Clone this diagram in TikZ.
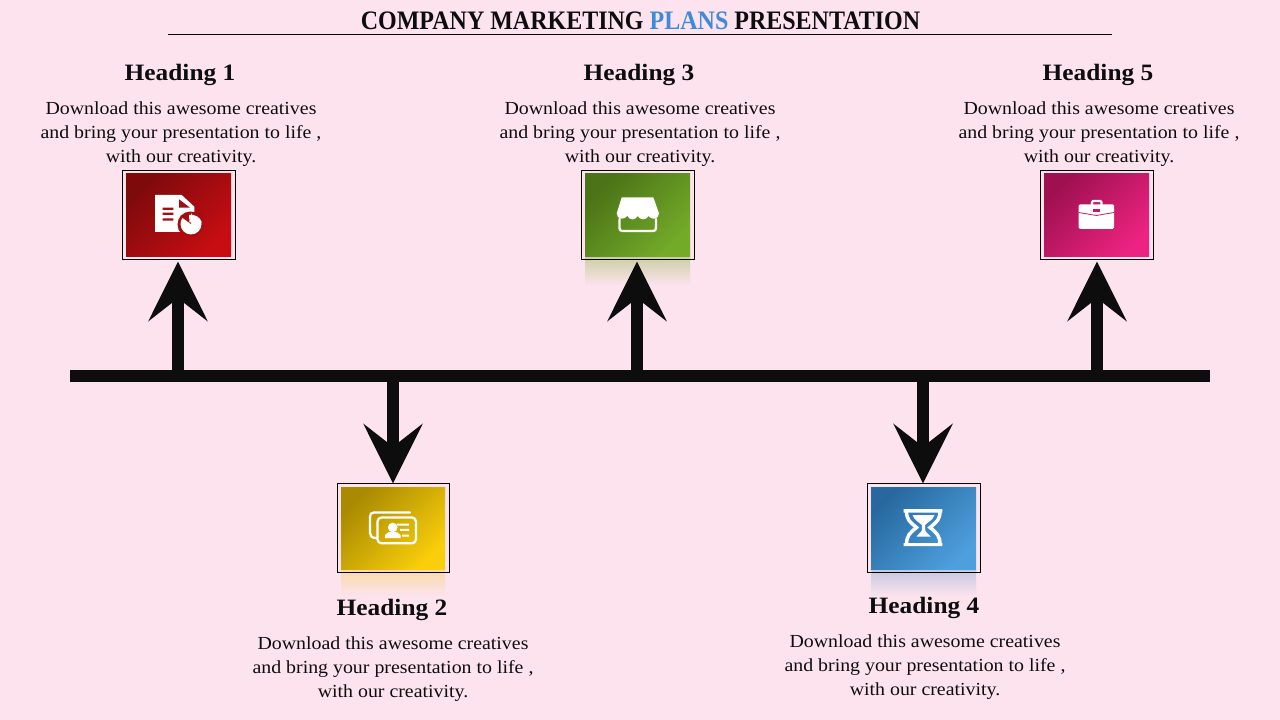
\documentclass[tikz,border=0pt]{standalone}
\usepackage{fontspec}
\setmainfont{Liberation Serif}[FakeStretch=1.08]
\newfontfamily\titlefont{Liberation Serif}[FakeStretch=0.90]
\usetikzlibrary{arrows.meta}
\definecolor{pagebg}{HTML}{FCE3EE}
\definecolor{ink}{HTML}{0D0D0D}
\definecolor{planblue}{HTML}{3F8BD9}
\definecolor{redA}{HTML}{7E0A0C}\definecolor{redB}{HTML}{C70D12}\definecolor{redM}{HTML}{A60D10}
\definecolor{greenA}{HTML}{4B7317}\definecolor{greenB}{HTML}{73AB29}
\definecolor{pinkA}{HTML}{9E1050}\definecolor{pinkB}{HTML}{EC2380}\definecolor{pinkM}{HTML}{C61A68}
\definecolor{goldA}{HTML}{A98A02}\definecolor{goldB}{HTML}{F9CE0B}
\definecolor{blueA}{HTML}{27699F}\definecolor{blueB}{HTML}{4E9FDD}
\definecolor{reflG}{HTML}{C9CFA0}\definecolor{reflY}{HTML}{FAD9A4}\definecolor{reflB}{HTML}{C3C7DF}
\tikzset{
  x=0.75pt,y=-0.75pt,
  frame/.style={draw=black,line width=0.75pt,fill=none,inner sep=0pt,minimum width=84.75pt,minimum height=66.75pt},
  headtext/.style={font=\fontsize{17.6}{22}\selectfont\bfseries,text=ink,inner sep=0pt,anchor=center},
  bodytext/.style={font=\fontsize{13.8}{18}\selectfont,text=ink,inner sep=0pt,align=center,anchor=center},
  pointer/.style={draw=ink,line width=9pt,-{Stealth[length=44.5pt,width=44pt,inset=17pt]}},
  iconfill/.style={fill=white,draw=none},
  iconline/.style={draw=white,line width=1.7pt,fill=none,line join=round,line cap=round},
}
\newcommand{\tile}[4]{\shade[shading=axis,left color=#3,right color=#4,shading angle=45] #1 rectangle #2;}
\begin{document}
\begin{tikzpicture}
\useasboundingbox (0,0) rectangle (1280,720);
\fill[pagebg] (0,0) rectangle (1280,720);
% title
\coordinate (ruleL) at (168,34.5);
\coordinate (ruleR) at (1112,34.5);
\draw[black,line width=0.75pt] (ruleL) -- (ruleR);
\node[font=\titlefont\fontsize{20}{22}\selectfont\bfseries,text=ink,inner sep=0pt] (title) at (640.5,20.5) {COMPANY MARKETING \textcolor{planblue}{PLANS} PRESENTATION};
% reflections
\shade[top color=reflG,bottom color=pagebg] (585,256) rectangle (690,285);
\shade[top color=reflY,bottom color=pagebg] (341,569) rectangle (445,596);
\shade[top color=reflB,bottom color=pagebg] (871,569) rectangle (976,596);
% tiles
\tile{(126,173.5)}{(231,256)}{redA}{redB}
\tile{(585,173.5)}{(690,256)}{greenA}{greenB}
\tile{(1044,173.5)}{(1149,256)}{pinkA}{pinkB}
\tile{(341,487)}{(445,569)}{goldA}{goldB}
\tile{(871,487)}{(976,569)}{blueA}{blueB}
% frames
\node[frame] (t1) at (179,215) {};
\node[frame] (t3) at (638,215) {};
\node[frame] (t5) at (1097,215) {};
\node[frame,minimum width=83.75pt] (t2) at (393.5,528) {};
\node[frame] (t4) at (924,528) {};
% axis
\coordinate (axL) at (70,376);
\coordinate (axR) at (1210,376);
\draw[ink,line width=9pt] (axL) -- (axR);
\coordinate (a1) at (178,376);\coordinate (h1) at (178,261.5);
\coordinate (a2) at (393,376);\coordinate (h2) at (393,483.5);
\coordinate (a3) at (637,376);\coordinate (h3) at (637,261.5);
\coordinate (a4) at (923,376);\coordinate (h4) at (923,483.5);
\coordinate (a5) at (1097,376);\coordinate (h5) at (1097,261.5);
\foreach \n in {1,...,5}{\draw[pointer] (a\n) -- (h\n);}
% icon 1: document and pie
\fill[iconfill] (155,195) -- (181.7,195) -- (194.3,206.7) -- (194.3,232) -- (155,232) -- cycle;
\fill[redM] (179,199.3) -- (190,207.7) -- (179,207.7) -- cycle;
\fill[redM] (162.7,207.7) rectangle (173.3,210) (162.7,212.7) rectangle (173.3,215) (162.7,218.3) rectangle (173.3,220.7);
\fill[redM] (190.5,224.5) circle[radius=13];
\fill[iconfill] (191,224) circle[radius=10.5];
\fill[redM] (191,224) -- (180,216) -- (191,212) -- cycle;
\fill[redM] (192,212) rectangle (204,222.5);
\fill[iconfill] (189.5,222.5) -- (189,215) .. controls (195,214) and (200,217) .. (202,222.5) -- cycle;
% icon 3: shop
\fill[iconfill] (621.7,197.3) -- (653.3,197.3) -- (659,213.3)
  .. controls (659,219.5) and (651,220.5) .. (648.5,216)
  .. controls (646,220.5) and (640,220.5) .. (637.8,216)
  .. controls (635,220.5) and (630,220.5) .. (627.3,216)
  .. controls (624,220.5) and (616.7,219.5) .. (616.7,213.3) -- cycle;
\draw[iconline] (619.5,219) -- (619.5,228) .. controls (619.5,230) and (620.5,231) .. (622.5,231) -- (653,231) .. controls (655,231) and (656,230) .. (656,228) -- (656,219);
% icon 5: briefcase
\draw[white,line width=1.7pt,fill=none,rounded corners=1pt] (1092,209) rectangle (1101.5,201);
\fill[iconfill,rounded corners=1pt] (1078.7,204.3) rectangle (1114,229);
\draw[pinkM,line width=0.6pt] (1078.7,212.5) -- (1096.4,215.5) -- (1114,212.5);
\fill[pinkM] (1093,209.5) rectangle (1100,212);
% icon 2: cards
\draw[iconline] (410,512.5) -- (374,512.5) .. controls (371.5,512.5) and (370,514) .. (370,516.5) -- (370,533) .. controls (370,536) and (372,538) .. (376,538);
\draw[iconline,rounded corners=3pt] (377.5,517.5) rectangle (416,543.3);
\fill[iconfill] (392.7,527.5) circle[radius=4.8];
\fill[iconfill] (385,538) -- (385,535) .. controls (386,532.5) and (389,532) .. (392.7,532) .. controls (396.5,532) and (399.5,532.5) .. (400.5,535) -- (400.5,538) -- cycle;
\fill[iconfill] (397,523.5) rectangle (409,525.5) (400,528.8) rectangle (409,530.8) (402,534.5) rectangle (409,536.5);
% icon 4: hourglass
\fill[iconfill] (903.7,509) rectangle (942.3,512.7) (903.7,543) rectangle (942.3,546);
\draw[white,line width=2.6pt,fill=none] (906.5,511) .. controls (906.5,520) and (910,522) .. (916.5,527.5) .. controls (910,533) and (906.5,535) .. (906.5,545);
\draw[white,line width=2.6pt,fill=none] (940,511) .. controls (940,520) and (936.5,522) .. (930,527.5) .. controls (936.5,533) and (940,535) .. (940,545);
\fill[iconfill] (912.5,515) -- (934.5,515) .. controls (933,520) and (928,522) .. (925,525) -- (925.3,531) -- (930.5,536.5) -- (916.5,536.5) -- (921.7,531) -- (922,525) .. controls (918.5,522) and (914,520) .. (912.5,515) -- cycle;
% text
\node[headtext] (h1t) at (180,74.5) {Heading 1};
\node[bodytext] (b1) at (181,134) {Download this awesome creatives\\and bring your presentation to life ,\\with our creativity.};
\node[headtext] (h3t) at (639,74.5) {Heading 3};
\node[bodytext] (b3) at (640,134) {Download this awesome creatives\\and bring your presentation to life ,\\with our creativity.};
\node[headtext] (h5t) at (1098,74.5) {Heading 5};
\node[bodytext] (b5) at (1099,134) {Download this awesome creatives\\and bring your presentation to life ,\\with our creativity.};
\node[headtext] (h2t) at (392,609.5) {Heading 2};
\node[bodytext] (b2) at (393,669) {Download this awesome creatives\\and bring your presentation to life ,\\with our creativity.};
\node[headtext] (h4t) at (924,607.5) {Heading 4};
\node[bodytext] (b4) at (925,667) {Download this awesome creatives\\and bring your presentation to life ,\\with our creativity.};
\end{tikzpicture}
\end{document}
